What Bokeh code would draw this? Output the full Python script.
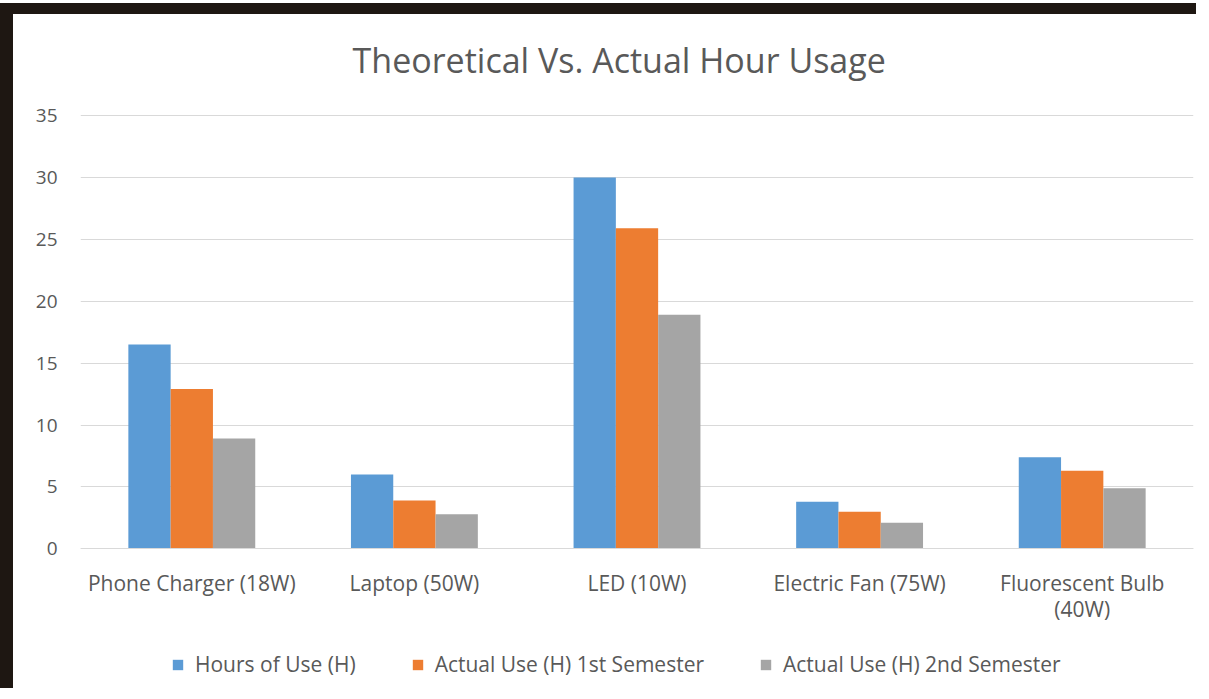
from bokeh.plotting import figure
from bokeh.models import FactorRange, Range1d, FixedTicker, Legend, LegendItem, ColumnDataSource, Label
from bokeh.transform import dodge
from bokeh.embed import file_html
from bokeh.resources import INLINE

title_text = "Theoretical Vs. Actual Hour Usage"
categories = ["Phone Charger (18W)", "Laptop (50W)", "LED (10W)", "Electric Fan (75W)", "Fluorescent Bulb\n(40W)"]
series_names = ["Hours of Use (H)", "Actual Use (H) 1st Semester", "Actual Use (H) 2nd Semester"]
hours_of_use = [16.5, 6.0, 30.0, 3.8, 7.4]
actual_1st = [12.9, 3.9, 25.9, 3.0, 6.3]
actual_2nd = [8.9, 2.8, 18.9, 2.1, 4.9]
y_ticks = [0, 5, 10, 15, 20, 25, 30, 35]

colors = ["#5B9BD5", "#ED7D31", "#A5A5A5"]
TXT = "#595959"
FONT = "Open Sans"
DARK = "#1E1712"

src = ColumnDataSource(dict(cat=categories, s0=hours_of_use, s1=actual_1st, s2=actual_2nd))

W, H = 1196, 685
p = figure(width=W, height=H, x_range=FactorRange(*categories, range_padding=0),
           y_range=Range1d(-11.77, 43.16), output_backend="svg", toolbar_location=None,
           title_location=None,
           min_border_left=67, min_border_right=16, min_border_top=0, min_border_bottom=5)

bw = 0.19
renderers = []
for i, key in enumerate(["s0", "s1", "s2"]):
    r = p.vbar(x=dodge("cat", (i - 1) * bw, range=p.x_range), top=key, bottom=0, width=bw, source=src,
               fill_color=colors[i], line_color=None)
    renderers.append(r)

p.add_layout(Label(x=2.42, y=39.45, text=title_text, text_align="center", text_baseline="middle",
                   text_font=FONT, text_font_size="34px", text_color=TXT))

p.outline_line_color = None
p.xgrid.grid_line_color = None
p.ygrid.ticker = FixedTicker(ticks=y_ticks)
p.ygrid.grid_line_color = "#D9D9D9"
p.ygrid.grid_line_width = 1

p.yaxis.ticker = FixedTicker(ticks=y_ticks)
p.yaxis.axis_line_color = None
p.yaxis.major_tick_line_color = None
p.yaxis.minor_tick_line_color = None
p.yaxis.major_label_standoff = 17
p.yaxis.major_label_text_font = FONT
p.yaxis.major_label_text_font_size = "19px"
p.yaxis.major_label_text_color = TXT

p.xaxis.fixed_location = 0
p.xaxis.axis_line_color = "#D9D9D9"
p.xaxis.major_tick_line_color = None
p.xaxis.minor_tick_line_color = None
p.xaxis.major_label_standoff = 14
p.xaxis.major_label_text_font = FONT
p.xaxis.major_label_text_font_size = "21px"
p.xaxis.major_label_text_line_height = 0.95
p.xaxis.major_label_text_color = TXT

legend = Legend(items=[LegendItem(label=series_names[i], renderers=[renderers[i]]) for i in range(3)],
                orientation="horizontal", location=(91, 16),
                label_text_font=FONT, label_text_font_size="21px", label_text_color=TXT,
                glyph_width=13, glyph_height=13, label_standoff=11, spacing=55,
                padding=0, margin=0, border_line_color=None, background_fill_alpha=0)
p.add_layout(legend, "center")

p.styles = {"border-left": "13px solid " + DARK, "border-top": "11px solid " + DARK, "margin-top": "3px"}

open("out.html", "w").write(file_html(p, INLINE))
